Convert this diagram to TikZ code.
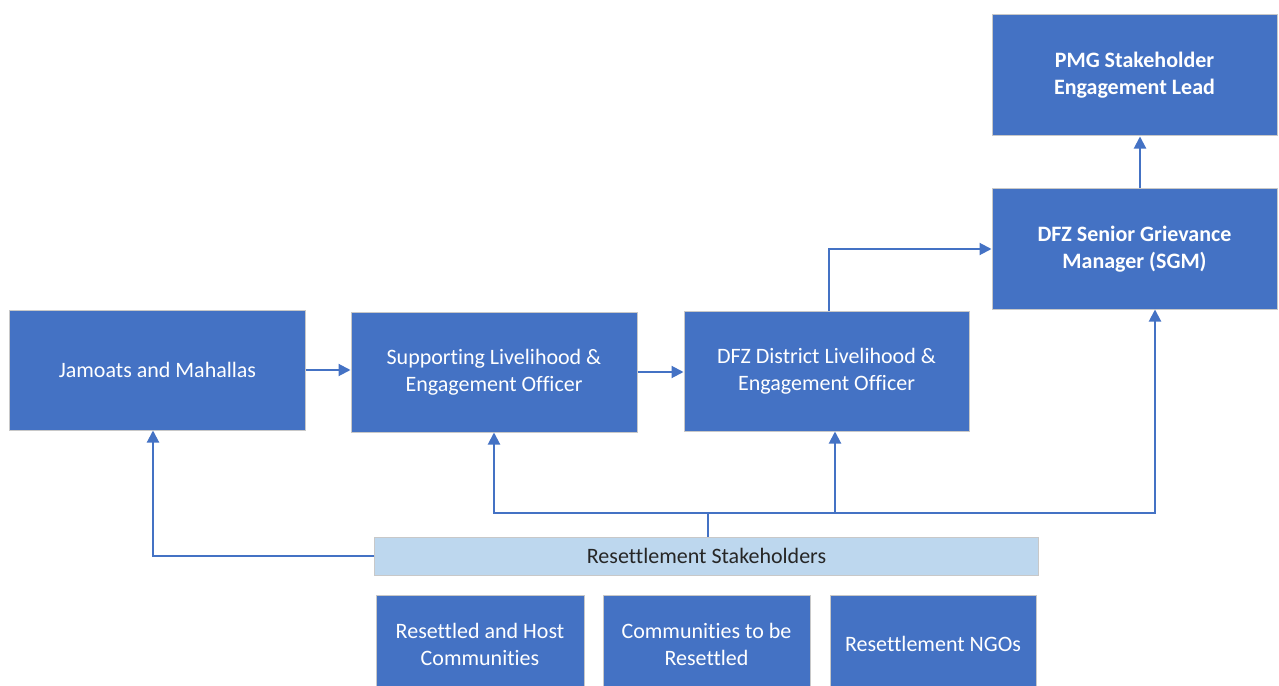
\documentclass[tikz,border=0pt]{standalone}
\usepackage{fontspec}
\setmainfont{Carlito}[Ligatures={NoCommon}]
\usetikzlibrary{arrows.meta}
\definecolor{boxblue}{HTML}{4472C4}
\definecolor{barblue}{HTML}{BDD7EE}
\definecolor{edgegray}{HTML}{C8C8C8}
\definecolor{bartext}{HTML}{262626}
\tikzset{
  box/.style={draw=edgegray, line width=1bp, fill=boxblue, text=white, align=center,
    inner sep=0pt, font=\fontsize{22bp}{27bp}\selectfont},
  boldbox/.style={box, font=\fontsize{22bp}{27bp}\selectfont\bfseries},
  bar/.style={draw=edgegray, line width=1bp, fill=barblue, text=bartext, align=center,
    inner sep=0pt, font=\fontsize{22bp}{27bp}\selectfont},
  conn/.style={draw=boxblue, line width=2bp, -{Triangle[length=12bp,width=12bp]}},
  plain/.style={draw=boxblue, line width=2bp}
}
\begin{document}
\begin{tikzpicture}[x=1bp,y=-1bp]
\useasboundingbox (0,0) rectangle (1279,686);
\clip (0,0) rectangle (1279,686);
\node[box, minimum width=295bp, minimum height=120bp] (jam) at (157.5,370) {Jamoats and Mahallas};
\node[box, minimum width=286bp, minimum height=120bp] (sup) at (494,372) {Supporting Livelihood \&\\Engagement Officer};
\node[box, minimum width=285bp, minimum height=120bp] (dist) at (826.5,371) {DFZ District Livelihood \&\\Engagement Officer};
\node[boldbox, minimum width=285bp, minimum height=120bp] (sgm) at (1134.5,249) {DFZ Senior Grievance\\Manager (SGM)};
\node[boldbox, minimum width=285bp, minimum height=121bp] (pmg) at (1134.5,75.5) {PMG Stakeholder\\Engagement Lead};
\node[bar, minimum width=663bp, minimum height=38bp] (res) at (706.5,556) {Resettlement Stakeholders};
\node[box, minimum width=208bp, minimum height=98bp] (b1) at (480,644) {Resettled and Host\\Communities};
\node[box, minimum width=207bp, minimum height=98bp] (b2) at (706.5,644) {Communities to be\\Resettled};
\node[box, minimum width=206bp, minimum height=98bp] (b3) at (933,644) {Resettlement NGOs};
\coordinate (j) at (708,513);
% connectors
\draw[conn] (jam.east) -- (jam.east -| sup.west);
\draw[conn] (sup.east) -- (sup.east -| dist.west);
\draw[conn] ([xshift=2.5bp]dist.north) |- (sgm.west);
\draw[conn] ([xshift=5.5bp]sgm.north) -- ([xshift=5.5bp]pmg.south);
\draw[conn] (res.west) -| ([xshift=-4.5bp]jam.south);
\draw[plain] (j |- res.north) -- (j);
\draw[conn] (j) -| (sup.south);
\draw[conn] (j) -| ([xshift=8.5bp]dist.south);
\draw[conn] (j) -| ([xshift=20.5bp]sgm.south);
\end{tikzpicture}
\end{document}
